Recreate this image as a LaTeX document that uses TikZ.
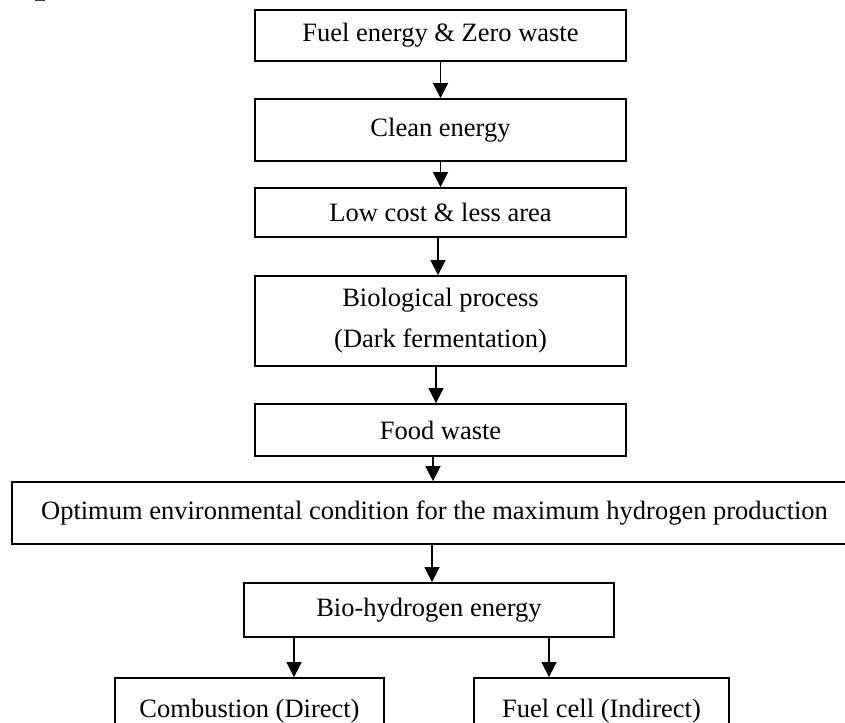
\documentclass[tikz,border=0pt]{standalone}
\usepackage{fontspec}
\setmainfont{Liberation Serif}
\usetikzlibrary{arrows.meta}
\begin{document}
\begin{tikzpicture}[x=1pt,y=-1pt,
  box/.style={draw=black,line width=1.8pt,rectangle,inner sep=0pt,
    font=\fontsize{26.5}{41}\selectfont,align=center,text=black},
  arr/.style={draw=black,line width=1.5pt,-{Triangle[width=15pt,length=15pt]}}]
\useasboundingbox (0,0) rectangle (845,722);
\fill[white] (0,0) rectangle (845,722);
\fill[black!75] (35,0) rectangle (45,1.5);
\node[box,minimum width=371pt,minimum height=51pt] (b1) at (440.5,35.5) {Fuel energy \& Zero waste};
\node[box,minimum width=371pt,minimum height=62pt] (b2) at (440.5,130) {Clean energy};
\node[box,minimum width=371pt,minimum height=49pt] (b3) at (440.5,212.5) {Low cost \& less area};
\node[box,minimum width=371pt,minimum height=90pt] (b4) at (440.5,321) {Biological process\\(Dark fermentation)};
\node[box,minimum width=371pt,minimum height=52pt] (b5) at (440.5,430) {Food waste};
\node[box,minimum width=845pt,minimum height=62pt] (b6) at (434.5,513) {Optimum environmental condition for the maximum hydrogen production};
\node[box,minimum width=370pt,minimum height=54pt] (b7) at (429,610) {Bio-hydrogen energy};
\node[box,minimum width=269pt,minimum height=66pt] (b8) at (249.5,711) {Combustion (Direct)};
\node[box,minimum width=255pt,minimum height=66pt] (b9) at (601.5,711) {Fuel cell (Indirect)};
\draw[arr] (b1.south) -- (b2.north);
\draw[arr] (b2.south) -- (b3.north);
\draw[arr] ([xshift=-2.5pt]b3.south) -- ([xshift=-2.5pt]b4.north);
\draw[arr] ([xshift=-4.5pt]b4.south) -- ([xshift=-4.5pt]b5.north);
\draw[arr] ([xshift=-7.5pt]b5.south) -- ([xshift=-1.5pt]b6.north);
\draw[arr] ([xshift=-2.5pt]b6.south) -- ([xshift=3pt]b7.north);
\draw[arr] ([xshift=-135pt]b7.south) -- ([xshift=44.5pt]b8.north);
\draw[arr] ([xshift=120pt]b7.south) -- ([xshift=-52.5pt]b9.north);
\end{tikzpicture}
\end{document}
